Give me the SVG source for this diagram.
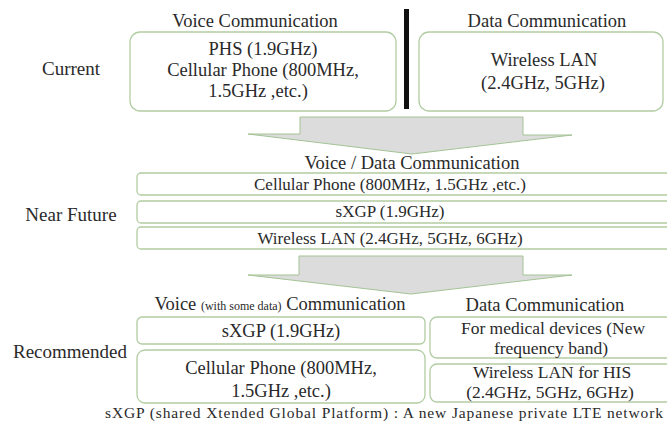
<svg xmlns="http://www.w3.org/2000/svg" width="667" height="425" viewBox="0 0 667 425">
<style>
text{font-family:'Liberation Serif','Times New Roman',serif;fill:#2a2a2a;text-anchor:middle;font-size:18.5px}
.lb{font-size:19px}
.box{fill:#fff;stroke:#b2cda3;stroke-width:1.3}
.arr{fill:#dcdcdc;stroke:#a3c394;stroke-width:1}
.sm{font-size:12px}
.nf{font-size:17px}
.rb{font-size:17.5px}
.ft{font-size:15.5px}
</style>
<rect width="667" height="425" fill="#fff"/>
<g id="labels">
<text class="lb" x="71" y="75">Current</text>
<text class="lb" x="71" y="221">Near Future</text>
<text class="lb" x="70" y="358">Recommended</text>
</g>
<g id="current-voice">
<text x="255" y="27">Voice Communication</text>
<rect class="box" x="130" y="32" width="266" height="79" rx="10"/>
<text x="263" y="55">PHS (1.9GHz)</text>
<text x="263" y="76">Cellular Phone (800MHz,</text>
<text x="258" y="97">1.5GHz ,etc.)</text>
</g>
<rect id="divider" x="404" y="9" width="5" height="100" fill="#111"/>
<g id="current-data">
<text x="547" y="27">Data Communication</text>
<rect class="box" x="419" y="32" width="244" height="79" rx="10"/>
<text x="544" y="66">Wireless LAN</text>
<text x="543" y="89">(2.4GHz, 5GHz)</text>
</g>
<g id="connectors">
<path class="arr" d="M300,117 H523 V135 H572 L412,154 L248,134 H300 Z"/>
<path class="arr" d="M299,256 H523 V275 H572 L411,294 L248,275 H299 Z"/>
</g>
<g id="near-future">
<text x="412" y="169">Voice / Data Communication</text>
<rect class="box" x="137" y="173" width="536" height="22" rx="4"/>
<text class="nf" x="390" y="190">Cellular Phone (800MHz, 1.5GHz ,etc.)</text>
<rect class="box" x="137" y="201" width="536" height="22" rx="4"/>
<text class="nf" x="390" y="217">sXGP (1.9GHz)</text>
<rect class="box" x="137" y="227" width="536" height="22" rx="4"/>
<text class="nf" x="390" y="244">Wireless LAN (2.4GHz, 5GHz, 6GHz)</text>
</g>
<g id="rec-voice">
<text x="280" y="310">Voice <tspan class="sm">(with some data)</tspan> Communication</text>
<rect class="box" x="137" y="317" width="288" height="27" rx="5"/>
<text x="281" y="337">sXGP (1.9GHz)</text>
<rect class="box" x="137" y="350" width="288" height="53" rx="8"/>
<text x="281" y="374">Cellular Phone (800MHz,</text>
<text x="281" y="397">1.5GHz ,etc.)</text>
</g>
<g id="rec-data">
<text x="545" y="311">Data Communication</text>
<rect class="box" x="430" y="317" width="243" height="41" rx="7"/>
<text class="rb" x="553" y="334">For medical devices (New</text>
<text class="rb" x="551" y="354">frequency band)</text>
<rect class="box" x="430" y="364" width="243" height="38" rx="7"/>
<text class="rb" x="552" y="378">Wireless LAN for HIS</text>
<text class="rb" x="550" y="398">(2.4GHz, 5GHz, 6GHz)</text>
</g>
<text class="ft" x="384" y="418" textLength="558" lengthAdjust="spacing">sXGP (shared Xtended Global Platform) : A new Japanese private LTE network</text>
</svg>
